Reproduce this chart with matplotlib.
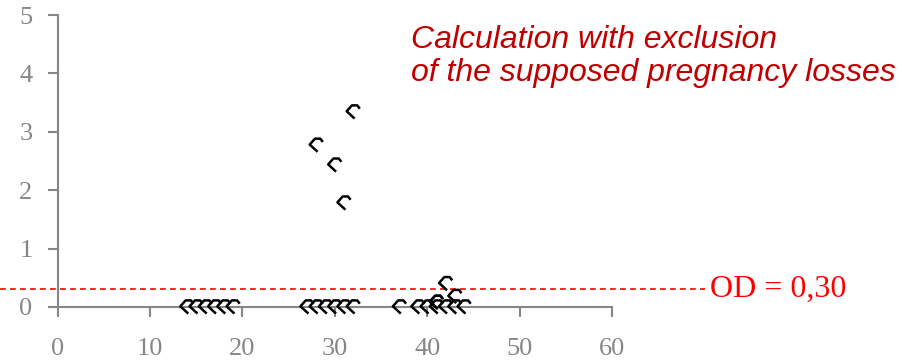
import numpy as np
import matplotlib
matplotlib.use("Agg")
import matplotlib.pyplot as plt
from matplotlib.path import Path

# valores
x_vals = [14, 15, 16, 17, 18, 19,
          27, 28, 29, 30, 31, 32,
          28, 30, 31, 32,
          37, 39, 40, 41, 41, 42, 43, 44,
          41, 42, 43]
y_vals = [0, 0, 0, 0, 0, 0,
          0, 0, 0, 0, 0, 0,
          2.77, 2.43, 1.78, 3.34,
          0, 0, 0, 0, 0.08, 0, 0, 0,
          0.08, 0.40, 0.18]
od_cut = 0.30
od_label = "OD = 0,30"
title_lines = ["Calculation with exclusion", "of the supposed pregnancy losses"]
xticks = [0, 10, 20, 30, 40, 50, 60]
yticks = [0, 1, 2, 3, 4, 5]

# marcador en forma de rombo abierto (como en el original)
verts = [(0.1, -0.5), (-0.5, 0.05), (-0.1, 0.5), (0.3, 0.5), (0.5, 0.25)]
codes = [Path.MOVETO] + [Path.LINETO] * 4
marker = Path(verts, codes)

gray = "#868686"
fig = plt.figure(figsize=(9.02, 3.61), dpi=100)
ax = fig.add_axes([0.0638, 0.1496, 0.6147, 0.8088])

ax.scatter(x_vals, y_vals, marker=marker, s=90, facecolors="none",
           edgecolors="black", linewidths=1.8, zorder=3, clip_on=False)

ax.axhline(od_cut, xmin=-0.104, xmax=1.168, color="red", lw=1.2,
           ls=(0, (3.5, 2.5)), clip_on=False, zorder=2)
ax.text(1.177, od_cut, od_label, transform=ax.get_yaxis_transform(),
        color="red", fontsize=23, family="Liberation Serif", va="center",
        ha="left")

ax.set_xlim(0, 60)
ax.set_ylim(0, 5)
ax.set_xticks(xticks)
ax.set_yticks(yticks)
for s in ["top", "right"]:
    ax.spines[s].set_visible(False)
for s in ["left", "bottom"]:
    ax.spines[s].set_color(gray)
    ax.spines[s].set_linewidth(1.5)
ax.tick_params(colors=gray, width=1.5, length=7, labelsize=19)
ax.tick_params(axis="x", pad=15)
ax.tick_params(axis="y", pad=11)
for lab in ax.get_xticklabels() + ax.get_yticklabels():
    lab.set_family("Liberation Serif")
    lab.set_color(gray)

fig.text(411 / 902, 1 - 25 / 361, "\n".join(title_lines), color="#C00000",
         fontsize=23, style="italic", family="Liberation Sans", va="top",
         ha="left", linespacing=1.15)

fig.savefig("out.png", dpi=100)
